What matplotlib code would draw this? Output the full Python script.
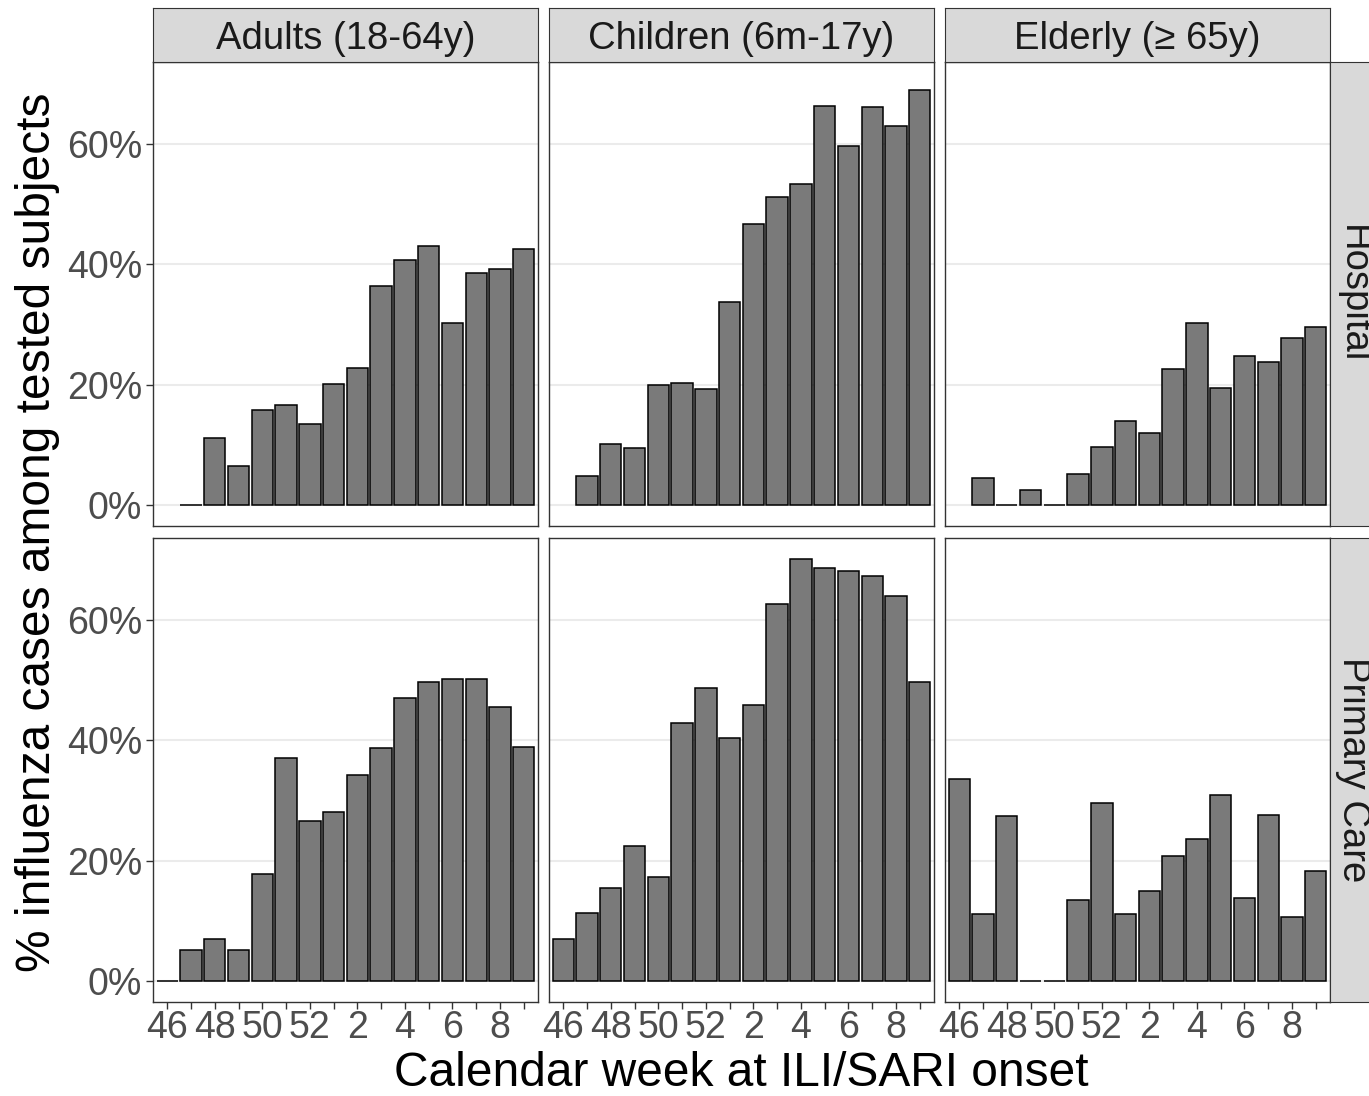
import numpy as np
import matplotlib
matplotlib.use("Agg")
import matplotlib.pyplot as plt

plt.rcParams['font.family'] = ['Liberation Sans', 'DejaVu Sans']

weeks = [46, 47, 48, 49, 50, 51, 52, 1, 2, 3, 4, 5, 6, 7, 8, 9]
week_labels = ['46', '', '48', '', '50', '', '52', '', '2', '', '4', '', '6', '', '8', '']

age_groups = ['Adults (18-64y)', 'Children (6m-17y)', 'Elderly (\u2265 65y)']
settings = ['Hospital', 'Primary Care']

# % positive, NaN = no data for that week
hosp_adults = [np.nan, 0, 11.1, 6.4, 15.7, 16.6, 13.5, 20.1, 22.8, 36.4, 40.7, 43.0, 30.2, 38.6, 39.2, 42.6]
hosp_children = [np.nan, 4.8, 10.2, 9.4, 20.0, 20.3, 19.2, 33.8, 46.6, 51.2, 53.4, 66.3, 59.6, 66.1, 62.9, 69.0]
hosp_elderly = [np.nan, 4.4, 0, 2.4, 0, 5.1, 9.6, 13.9, 11.9, 22.6, 30.3, 19.4, 24.8, 23.7, 27.7, 29.5]
pc_adults = [0, 5.1, 7.0, 5.2, 17.7, 37.1, 26.5, 28.1, 34.3, 38.7, 47.0, 49.6, 50.1, 50.1, 45.5, 38.8]
pc_children = [7.0, 11.3, 15.4, 22.5, 17.3, 42.9, 48.7, 40.4, 45.9, 62.7, 70.1, 68.7, 68.1, 67.3, 63.9, 49.6]
pc_elderly = [33.5, 11.2, 27.4, 0, 0, 13.5, 29.5, 11.2, 15.0, 20.7, 23.6, 30.9, 13.7, 27.6, 10.6, 18.3]

data = [[hosp_adults, hosp_children, hosp_elderly],
        [pc_adults, pc_children, pc_elderly]]

W, H = 1369, 1096
fig = plt.figure(figsize=(W / 100, H / 100), dpi=100)


def rect(l, t, r, b):
    return [l / W, 1 - b / H, (r - l) / W, (b - t) / H]


col_x = [(153, 538), (549, 934), (945, 1330)]
row_y = [(62, 526), (538, 1002)]

ymax = np.nanmax([np.nanmax(v) for row in data for v in row])
pad = ymax * 0.05
xpos = np.arange(len(weeks))

for i, (t, b) in enumerate(row_y):
    for j, (l, r) in enumerate(col_x):
        ax = fig.add_axes(rect(l, t, r, b))
        vals = np.array(data[i][j], dtype=float)
        ok = ~np.isnan(vals)
        ax.bar(xpos[ok], vals[ok], width=0.9, color='#7a7a7a',
               edgecolor='black', linewidth=1.1, zorder=3)
        ax.set_xlim(-0.6, len(weeks) - 0.4)
        ax.set_ylim(-pad, ymax + pad)
        ax.set_yticks([0, 20, 40, 60])
        ax.yaxis.grid(True, color='#EBEBEB', linewidth=1.5, zorder=0)
        ax.set_xticks(xpos)
        for s in ax.spines.values():
            s.set_color('#333333')
            s.set_linewidth(1.0)
        ax.tick_params(length=5, width=1, color='#333333', labelcolor='#4D4D4D',
                       labelsize=27)
        ax.tick_params(axis='y', pad=3)
        ax.tick_params(axis='x', pad=1)
        if j == 0:
            ax.set_yticklabels(['0%', '20%', '40%', '60%'])
        else:
            ax.tick_params(axis='y', length=0, labelleft=False)
        if i == 1:
            ax.set_xticklabels(week_labels)
        else:
            ax.tick_params(axis='x', length=0, labelbottom=False)

# top strips
for j, (l, r) in enumerate(col_x):
    sx = fig.add_axes(rect(l, 8, r, 62))
    sx.set_facecolor('#D9D9D9')
    sx.set_xticks([])
    sx.set_yticks([])
    for s in sx.spines.values():
        s.set_color('#333333')
    sx.text(0.5, 0.42, age_groups[j], ha='center', va='center', fontsize=27.5,
            color='#1A1A1A', transform=sx.transAxes)

# right strips
for i, (t, b) in enumerate(row_y):
    sx = fig.add_axes(rect(1330, t, 1384, b))
    sx.set_facecolor('#D9D9D9')
    sx.set_xticks([])
    sx.set_yticks([])
    for s in sx.spines.values():
        s.set_color('#333333')
    fig.text(1353 / W, 1 - (t + b) / 2 / H, settings[i], ha='center', va='center',
             rotation=-90, fontsize=27.5, color='#1A1A1A')

fig.text(741 / W, 1 - 1073 / H, 'Calendar week at ILI/SARI onset', ha='center',
         va='center', fontsize=34.5)
fig.text(38 / W, 1 - 532 / H, '% influenza cases among tested subjects', ha='center',
         va='center', rotation=90, fontsize=34.5)

fig.savefig('out.png', dpi=100, facecolor='white')
